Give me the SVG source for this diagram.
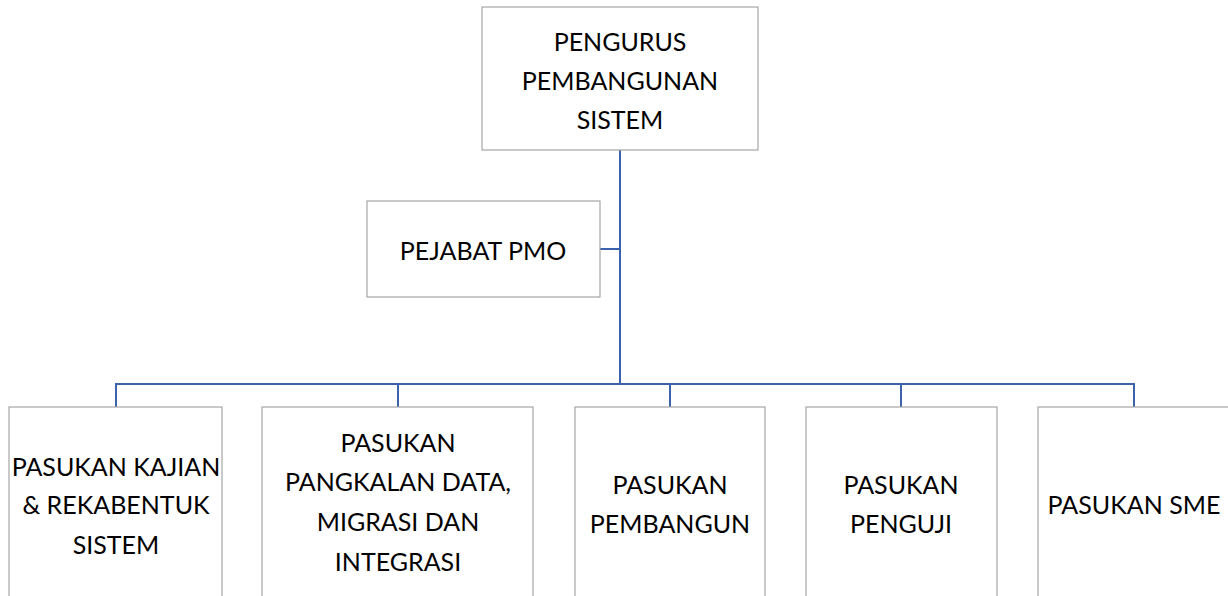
<svg xmlns="http://www.w3.org/2000/svg" width="1228" height="596" viewBox="0 0 1228 596">
<style>
.box{fill:#ffffff;stroke:#a6a6a6;stroke-width:1.2}
.t{font-family:Lato,"Open Sans","Liberation Sans",sans-serif;font-size:25px;fill:#000;text-anchor:middle}
.c{fill:none;stroke:#3b62aa;stroke-width:2}
</style>
<rect width="1228" height="596" fill="#ffffff"/>
<g id="connectors">
<line class="c" x1="620" y1="150" x2="620" y2="384"/>
<line class="c" x1="600" y1="249" x2="620" y2="249"/>
<polyline class="c" points="116,407 116,384 1134,384 1134,407"/>
<line class="c" x1="398" y1="384" x2="398" y2="407"/>
<line class="c" x1="670" y1="384" x2="670" y2="407"/>
<line class="c" x1="901" y1="384" x2="901" y2="407"/>
</g>
<g id="n-pengurus">
<rect class="box" x="482" y="7" width="276" height="143"/>
<text class="t" x="620" y="51">PENGURUS</text>
<text class="t" x="620" y="90">PEMBANGUNAN</text>
<text class="t" x="620" y="129">SISTEM</text>
</g>
<g id="n-pmo">
<rect class="box" x="367" y="201" width="233" height="96"/>
<text class="t" x="483" y="260">PEJABAT PMO</text>
</g>
<g id="n-kajian">
<rect class="box" x="9" y="407" width="213" height="200"/>
<text class="t" x="116" y="476">PASUKAN KAJIAN</text>
<text class="t" x="116" y="514">&amp; REKABENTUK</text>
<text class="t" x="116" y="554">SISTEM</text>
</g>
<g id="n-pangkalan">
<rect class="box" x="262" y="407" width="271" height="200"/>
<text class="t" x="398" y="452">PASUKAN</text>
<text class="t" x="398" y="491">PANGKALAN DATA,</text>
<text class="t" x="398" y="531">MIGRASI DAN</text>
<text class="t" x="398" y="571">INTEGRASI</text>
</g>
<g id="n-pembangun">
<rect class="box" x="575" y="407" width="190" height="200"/>
<text class="t" x="670" y="494">PASUKAN</text>
<text class="t" x="670" y="533">PEMBANGUN</text>
</g>
<g id="n-penguji">
<rect class="box" x="806" y="407" width="191" height="200"/>
<text class="t" x="901" y="494">PASUKAN</text>
<text class="t" x="901" y="533">PENGUJI</text>
</g>
<g id="n-sme">
<rect class="box" x="1038" y="407" width="195" height="200"/>
<text class="t" x="1134" y="514">PASUKAN SME</text>
</g>
</svg>
